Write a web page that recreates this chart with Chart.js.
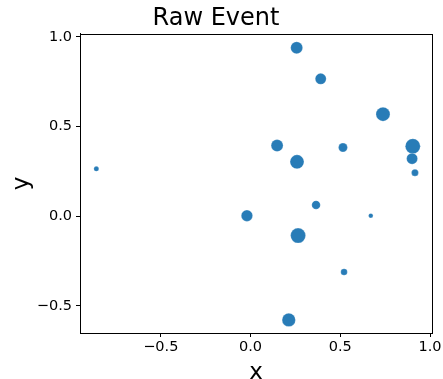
<!DOCTYPE html>
<html>
<head>
<meta charset="utf-8">
<script src="https://cdn.jsdelivr.net/npm/chart.js@4/dist/chart.umd.min.js"></script>
<style>
html,body{margin:0;padding:0;background:#fff;}
#wrap{width:443px;height:379px;}
</style>
</head>
<body>
<div id="wrap"><canvas id="c" width="443" height="379"></canvas></div>
<script>
const xValues = [0.257, 0.391, 0.738, 0.148, 0.515, 0.904, 0.259, 0.900, 0.916, -0.859, 0.365, -0.020, 0.670, 0.265, 0.521, 0.213];
const yValues = [0.939, 0.766, 0.569, 0.394, 0.383, 0.390, 0.303, 0.321, 0.243, 0.264, 0.063, 0.003, 0.003, -0.108, -0.311, -0.578];
const sizes   = [6.0, 5.5, 7.0, 6.0, 4.5, 7.5, 7.0, 5.5, 3.5, 2.5, 4.3, 5.7, 2.3, 7.5, 3.3, 6.7];
const xTicks = [-0.5, 0.0, 0.5, 1.0];
const yTicks = [-0.5, 0.0, 0.5, 1.0];

const FONT = "'DejaVu Sans', sans-serif";
const points = xValues.map((x, i) => ({x: x, y: yValues[i], r: sizes[i]}));
const fmt = v => v.toFixed(1).replace('-', '\u2212');

const frame = {
  id: 'frame',
  afterDraw(chart) {
    const a = chart.chartArea, ctx = chart.ctx;
    ctx.save();
    ctx.strokeStyle = '#000';
    ctx.lineWidth = 1;
    ctx.strokeRect(Math.round(a.left) + 0.5, Math.round(a.top) + 0.5, Math.round(a.right - a.left), Math.round(a.bottom - a.top));
    ctx.restore();
  }
};

new Chart(document.getElementById('c'), {
  type: 'bubble',
  data: {
    datasets: [{
      data: points,
      backgroundColor: 'rgba(31,119,180,0.96)',
      borderColor: 'rgba(255,255,255,0.35)',
      borderWidth: 0.6,
      hoverRadius: 0
    }]
  },
  options: {
    responsive: false,
    animation: false,
    layout: {padding: {left: 0, right: 11, top: 0, bottom: 0}},
    plugins: {
      legend: {display: false},
      tooltip: {enabled: false},
      title: {
        display: true,
        text: 'Raw Event',
        color: '#000',
        font: {family: FONT, size: 24, weight: 'normal'},
        padding: {top: 4, bottom: 1}
      }
    },
    scales: {
      x: {
        type: 'linear',
        min: -0.95,
        max: 1.011,
        afterBuildTicks: s => { s.ticks = xTicks.map(v => ({value: v})); },
        afterFit: s => { s.height = 46; s.paddingLeft = 0; s.paddingRight = 0; },
        ticks: {
          callback: v => fmt(v),
          color: '#000',
          font: {family: FONT, size: 14.5},
          padding: 2,
          maxRotation: 0,
          autoSkip: false
        },
        grid: {display: true, drawOnChartArea: false, drawTicks: true, tickLength: 4, color: '#000'},
        border: {display: true, color: '#000'},
        title: {display: true, text: 'x', color: '#000', font: {family: FONT, size: 23, lineHeight: 0.52}, padding: {top: 0, bottom: 0}}
      },
      y: {
        type: 'linear',
        min: -0.651,
        max: 1.017,
        afterBuildTicks: s => { s.ticks = yTicks.map(v => ({value: v})); },
        afterFit: s => { s.width = 80; s.paddingTop = 0; s.paddingBottom = 0; },
        ticks: {
          callback: v => fmt(v),
          color: '#000',
          font: {family: FONT, size: 14.5},
          padding: 4,
          autoSkip: false
        },
        grid: {display: true, drawOnChartArea: false, drawTicks: true, tickLength: 4, color: '#000'},
        border: {display: true, color: '#000'},
        title: {display: true, text: 'y', color: '#000', font: {family: FONT, size: 23}, padding: {top: 8, bottom: 0}}
      }
    }
  },
  plugins: [frame]
});
</script>
</body>
</html>
